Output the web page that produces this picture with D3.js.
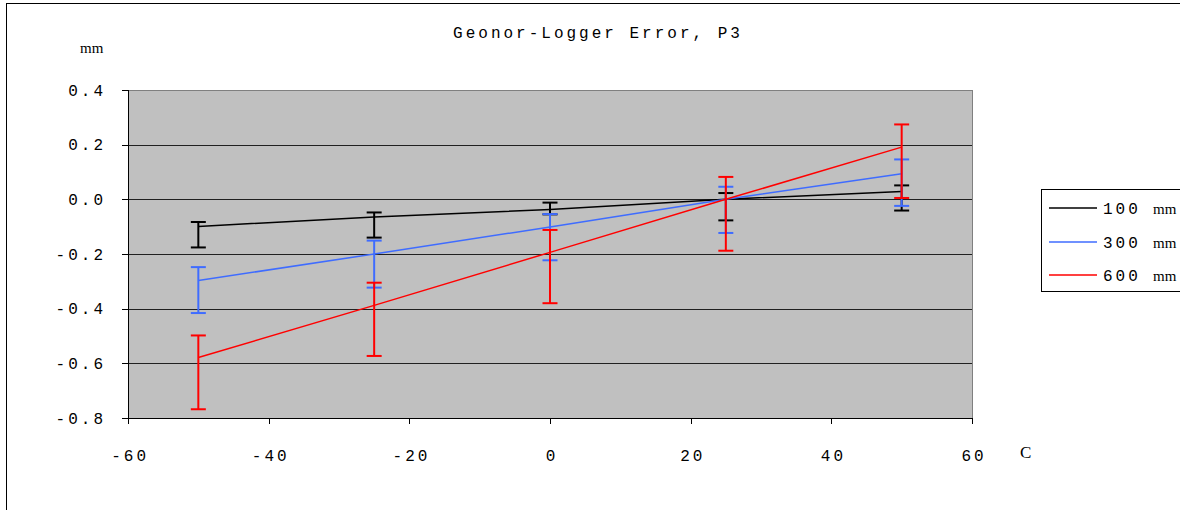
<!DOCTYPE html>
<html lang="en">
<head>
<meta charset="utf-8">
<title>Geonor-Logger Error, P3</title>
<script src="https://cdn.jsdelivr.net/npm/d3@7"></script>
<style>
    body { margin: 0; background: #fff; }
    .mono { font-family: "Liberation Mono", "Courier New", monospace; font-size: 16px; letter-spacing: 3px; fill: #000; }
    .serif { font-family: "Liberation Serif", "Times New Roman", serif; fill: #000; }
    .axis path, .axis line { stroke: #000; shape-rendering: crispEdges; }
</style>
</head>
<body>
<div id="chart"></div>
<script>
// temperatures (C)
var temps = [-50, -25, 0, 25, 50];
var seriesNames = ["100", "300", "600"];
var seriesColors = ["#000000", "#3f6cff", "#ff0000"];

// mean error (mm)
var err100 = [-0.099, -0.065, -0.037, 0.0, 0.029];
var err300 = [-0.297, -0.200, -0.101, 0.0, 0.094];
var err600 = [-0.579, -0.388, -0.194, 0.0, 0.191];

// error bar ends
var hi100 = [-0.083, -0.048, -0.012, 0.023, 0.051];
var lo100 = [-0.176, -0.140, -0.055, -0.077, -0.041];
var hi300 = [-0.248, -0.151, -0.054, 0.046, 0.146];
var lo300 = [-0.416, -0.323, -0.223, -0.123, -0.024];
var hi600 = [-0.498, -0.305, -0.112, 0.082, 0.274];
var lo600 = [-0.768, -0.573, -0.380, -0.188, 0.005];

var xTicks = [-60, -40, -20, 0, 20, 40, 60];
var yTicks = [-0.8, -0.6, -0.4, -0.2, 0.0, 0.2, 0.4];

var series = [
    {name: seriesNames[0], color: seriesColors[0], y: err100, hi: hi100, lo: lo100},
    {name: seriesNames[1], color: seriesColors[1], y: err300, hi: hi300, lo: lo300},
    {name: seriesNames[2], color: seriesColors[2], y: err600, hi: hi600, lo: lo600}
];

var W = 1180, H = 510;
var plot = {left: 128, top: 90, right: 972, bottom: 418};

var svg = d3.select("#chart").append("svg")
    .attr("width", W)
    .attr("height", H);

// outer chart frame
svg.append("rect")
    .attr("x", 6.5).attr("y", 3.5)
    .attr("width", W + 20).attr("height", H + 20)
    .attr("fill", "#fff")
    .attr("stroke", "#000");

var x = d3.scaleLinear().domain([-60, 60]).range([plot.left, plot.right]);
var y = d3.scaleLinear().domain([-0.8, 0.4]).range([plot.bottom, plot.top]);

// plot area
svg.append("rect")
    .attr("x", plot.left).attr("y", plot.top)
    .attr("width", plot.right - plot.left)
    .attr("height", plot.bottom - plot.top)
    .attr("fill", "#c0c0c0")
    .attr("stroke", "#808080")
    .attr("shape-rendering", "crispEdges");

// gridlines
svg.append("g").selectAll("line")
    .data(yTicks.filter(function(d) { return d > -0.8 && d < 0.4; }))
    .enter().append("line")
    .attr("x1", plot.left).attr("x2", plot.right)
    .attr("y1", function(d) { return Math.round(y(d)) + 0.5; })
    .attr("y2", function(d) { return Math.round(y(d)) + 0.5; })
    .attr("stroke", "#202020")
    .attr("stroke-width", 1);

// axes
var xAxis = svg.append("g")
    .attr("class", "axis")
    .attr("transform", "translate(0," + plot.bottom + ")")
    .call(d3.axisBottom(x).tickValues(xTicks).tickSize(6).tickFormat(d3.format("d")));
xAxis.selectAll("text")
    .attr("class", "mono")
    .attr("y", 32)
    .attr("dx", "0.1em")
    .style("font-size", null);
xAxis.select(".domain").attr("d", "M" + plot.left + ",0.5H" + plot.right);

var yAxis = svg.append("g")
    .attr("class", "axis")
    .attr("transform", "translate(" + plot.left + ",0)")
    .call(d3.axisLeft(y).tickValues(yTicks).tickSize(6).tickFormat(d3.format(".1f")));
yAxis.selectAll("text")
    .attr("class", "mono")
    .attr("x", -22)
    .text(function(d) { return d3.format(".1f")(d).replace("−", "-"); });
yAxis.select(".domain").attr("d", "M0.5," + plot.top + "V" + plot.bottom);
xAxis.selectAll("text").text(function(d) { return String(d); });

// title and axis units
svg.append("text")
    .attr("class", "mono")
    .attr("x", 598).attr("y", 38)
    .attr("text-anchor", "middle")
    .text("Geonor-Logger Error, P3");

svg.append("text")
    .attr("class", "serif")
    .attr("x", 80).attr("y", 53)
    .style("font-size", "15px")
    .text("mm");

svg.append("text")
    .attr("class", "serif")
    .attr("x", 1020).attr("y", 458)
    .style("font-size", "17px")
    .text("C");

// series
var line = d3.line()
    .x(function(d) { return x(d[0]); })
    .y(function(d) { return y(d[1]); });

series.forEach(function(s) {
    var g = svg.append("g");
    var pts = temps.map(function(t, i) { return [t, s.y[i]]; });

    g.append("path")
        .datum(pts)
        .attr("fill", "none")
        .attr("stroke", s.color)
        .attr("stroke-width", 1.5)
        .attr("d", line);

    var bars = g.selectAll(".err")
        .data(temps.map(function(t, i) { return {t: t, hi: s.hi[i], lo: s.lo[i]}; }))
        .enter().append("g");

    bars.append("line")
        .attr("x1", function(d) { return x(d.t); })
        .attr("x2", function(d) { return x(d.t); })
        .attr("y1", function(d) { return y(d.hi); })
        .attr("y2", function(d) { return y(d.lo); })
        .attr("stroke", s.color)
        .attr("stroke-width", 2);

    ["hi", "lo"].forEach(function(k) {
        bars.append("line")
            .attr("x1", function(d) { return x(d.t) - 7.5; })
            .attr("x2", function(d) { return x(d.t) + 7.5; })
            .attr("y1", function(d) { return y(d[k]); })
            .attr("y2", function(d) { return y(d[k]); })
            .attr("stroke", s.color)
            .attr("stroke-width", 2);
    });
});

// legend
var legend = svg.append("g");
legend.append("rect")
    .attr("x", 1041.5).attr("y", 189.5)
    .attr("width", 160).attr("height", 102)
    .attr("fill", "#fff")
    .attr("stroke", "#000");

var rows = legend.selectAll(".row")
    .data(series)
    .enter().append("g")
    .attr("transform", function(d, i) { return "translate(0," + [208, 242, 275][i] + ")"; });

rows.append("line")
    .attr("x1", 1049).attr("x2", 1097)
    .attr("y1", 0).attr("y2", 0)
    .attr("stroke", function(d) { return d.color; })
    .attr("stroke-width", 1.5);

var lt = rows.append("text")
    .attr("x", 1103).attr("y", 6);
lt.append("tspan")
    .attr("class", "mono")
    .text(function(d) { return d.name; });
lt.append("tspan")
    .attr("class", "serif")
    .attr("x", 1153)
    .style("font-size", "15px")
    .text("mm");
</script>
</body>
</html>
